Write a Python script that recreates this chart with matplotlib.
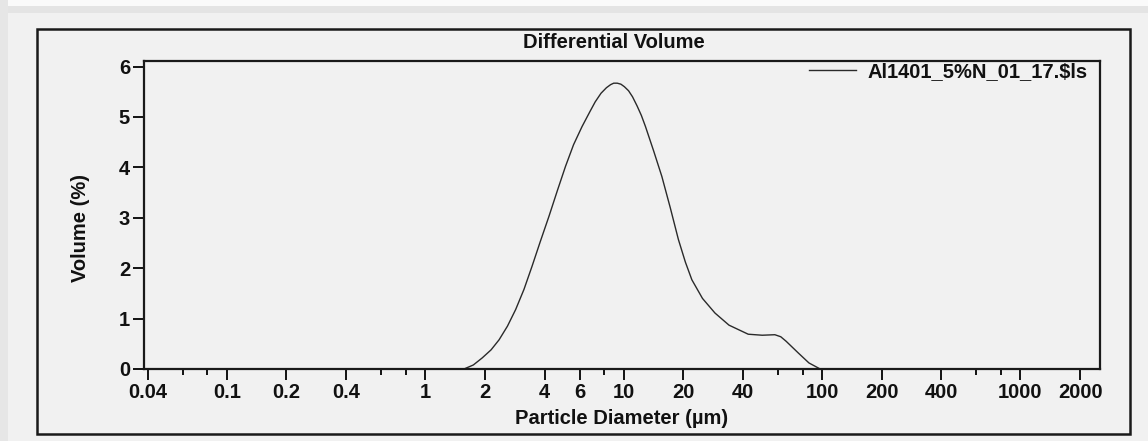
import numpy as np
import matplotlib
matplotlib.use('Agg')
import matplotlib.pyplot as plt
from matplotlib.patches import Rectangle
from matplotlib.ticker import FixedLocator, FixedFormatter, NullFormatter

plt.rcParams['font.family'] = ['Liberation Sans', 'DejaVu Sans']
plt.rcParams['font.weight'] = 'bold'
plt.rcParams['font.size'] = 14.5

# particle size distribution
diameter = [1.57, 1.75, 1.94, 2.15, 2.36, 2.6, 2.86, 3.15, 3.46, 3.8, 4.21, 4.65,
            5.1, 5.6, 6.18, 6.8, 7.2, 7.7, 8.2, 8.6, 8.92, 9.3, 9.7, 10.1, 10.6,
            11.1, 11.7, 12.3, 12.9, 14.2, 15.6, 17.2, 18.9, 20.5, 22.1, 25.0,
            28.9, 34.0, 42.5, 50.0, 57.9, 62.0, 66.0, 75.9, 86.0, 98.0]
volume = [0.0, 0.08, 0.22, 0.38, 0.58, 0.85, 1.18, 1.58, 2.04, 2.52, 3.03, 3.55,
          4.02, 4.45, 4.81, 5.12, 5.30, 5.47, 5.58, 5.64, 5.67, 5.67, 5.65, 5.60, 5.52,
          5.40, 5.22, 5.03, 4.81, 4.32, 3.82, 3.2, 2.57, 2.12, 1.77, 1.4,
          1.11, 0.87, 0.69, 0.67, 0.68, 0.64, 0.55, 0.32, 0.12, 0.0]

major_ticks = [0.04, 0.1, 0.2, 0.4, 1, 2, 4, 6, 10, 20, 40, 100, 200, 400, 1000, 2000]
major_labels = ['0.04', '0.1', '0.2', '0.4', '1', '2', '4', '6', '10', '20', '40',
                '100', '200', '400', '1000', '2000']
minor_ticks = [0.06, 0.08, 0.6, 0.8, 8, 60, 80, 600, 800]
y_ticks = [0, 1, 2, 3, 4, 5, 6]

series_name = r'Al1401_5%N_01_17.\$ls'

W, H = 1148, 441
fig = plt.figure(figsize=(W / 100, H / 100), dpi=100, facecolor='#f1f1f1')

# scanner edge shading
fig.patches.append(Rectangle((0, 1 - 13 / H), 1, 13 / H, transform=fig.transFigure,
                             facecolor='#e4e4e4', edgecolor='none', zorder=0))
fig.patches.append(Rectangle((0, 1 - 6 / H), 1, 6 / H, transform=fig.transFigure,
                             facecolor='#fafafa', edgecolor='none', zorder=0))
fig.patches.append(Rectangle((0, 0), 8 / W, 1, transform=fig.transFigure,
                             facecolor='#e6e6e6', edgecolor='none', zorder=0))

# outer frame
fig.patches.append(Rectangle((37 / W, 1 - 434 / H), (1130 - 37) / W, (434 - 29) / H,
                             transform=fig.transFigure, fill=False,
                             edgecolor='#1a1a1a', linewidth=1.8, zorder=1))

left, right, top, bottom = 144, 1100, 61, 369
ax = fig.add_axes([left / W, 1 - bottom / H, (right - left) / W, (bottom - top) / H])
ax.set_facecolor('#f1f1f1')

ax.plot(diameter, volume, color='#2a2a2a', linewidth=1.0, label=series_name)

ax.set_xscale('log')
ax.set_xlim(0.0383, 2520)
ax.set_ylim(0, 6.11)

ax.xaxis.set_major_locator(FixedLocator(major_ticks))
ax.xaxis.set_major_formatter(FixedFormatter(major_labels))
ax.xaxis.set_minor_locator(FixedLocator(minor_ticks))
ax.xaxis.set_minor_formatter(NullFormatter())
ax.set_yticks(y_ticks)
ax.set_yticklabels([str(v) for v in y_ticks])

ax.tick_params(axis='x', which='major', length=8, width=1.4, pad=2, colors='#111111')
ax.tick_params(axis='x', which='minor', length=4.5, width=1.4, colors='#111111')
ax.tick_params(axis='y', which='major', length=8, width=1.4, pad=2, colors='#111111')
for lbl in ax.get_xticklabels() + ax.get_yticklabels():
    lbl.set_fontweight('bold')

for sp in ax.spines.values():
    sp.set_linewidth(1.6)
    sp.set_color('#1a1a1a')

ax.text((622 - left) / (right - left), (bottom - 418) / (bottom - top),
        'Particle Diameter (µm)', transform=ax.transAxes, ha='center', va='center',
        fontweight='bold', color='#111111')
ax.text((80 - left) / (right - left), (bottom - 228) / (bottom - top),
        'Volume (%)', transform=ax.transAxes, ha='center', va='center',
        rotation=90, fontweight='bold', color='#111111')
fig.text(614 / W, 1 - 43 / H, 'Differential Volume', ha='center', va='center',
         fontweight='bold', color='#111111')

leg = ax.legend(loc='center right', bbox_to_anchor=((1088 - left) / (right - left),
                                                      (bottom - 72) / (bottom - top)),
                frameon=False, borderpad=0, borderaxespad=0, handlelength=2.3,
                handletextpad=0.6, prop={'weight': 'bold', 'size': 14.5})
for t in leg.get_texts():
    t.set_color('#111111')

fig.savefig('out.png', dpi=100, facecolor=fig.get_facecolor())
